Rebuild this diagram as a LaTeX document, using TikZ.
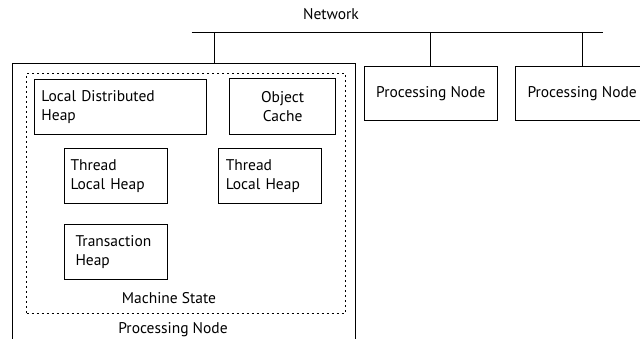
\documentclass[tikz,border=0pt]{standalone}
\usepackage{fontspec}
\setmainfont{PT Sans}
\usetikzlibrary{positioning}

\begin{document}
\begin{tikzpicture}[x=1pt, y=-1pt,
    every node/.style={font=\fontsize{15.5}{19}\selectfont},
    box/.style={draw, line width=1pt, inner sep=0pt, anchor=north west},
    heap/.style={box, align=left, inner ysep=0pt},
    statebox/.style={box, line width=1pt, dash pattern=on 2.5pt off 2.5pt},
  ]
    % Fix the page size
    \useasboundingbox (0,0) rectangle (640,339);

    % Draw the network bus
    \coordinate (netW) at (191.7,32.7);
    \coordinate (netE) at (602.7,32.7);
    \coordinate (tap1) at (214.7,32.7);
    \draw[line width=1pt] (netW) -- (netE);
    \node (net) at (331,14) {Network};

    % Draw the processing nodes
    \node[box, minimum width=343.3, minimum height=275.2] (pn1) at (11.7,63.3) {};
    \node[box, minimum width=132.7, minimum height=54.3] (pn2) at (364,65.7) {Processing Node};
    \node[box, minimum width=132.7, minimum height=54.3] (pn3) at (515.3,65.7) {Processing Node};
    \node (pn1label) at (173,330) {Processing Node};

    % Connect them to the bus
    \draw[line width=1pt] (tap1) -- (tap1 |- pn1.north);
    \draw[line width=1pt] (pn2.north |- netW) -- (pn2.north);
    \draw[line width=1pt] (pn3.north |- netW) -- (pn3.north);

    % Draw the machine state
    \node[statebox, minimum width=319, minimum height=239.7] (state) at (26,73) {};
    \node (statelabel) at (169,298) {Machine State};

    % Draw the heaps inside it
    \node[heap, text width=158, inner xsep=7, minimum height=55] (ldh) at (34,79) {Local Distributed\\Heap};
    \node[box, align=center, minimum width=105.7, minimum height=56] (cache) at (229.3,78) {Object\\Cache};
    \node[heap, text width=91, inner xsep=6, minimum height=54.4] (tlh1) at (64,148.3) {Thread\\Local Heap};
    \node[heap, text width=88.7, inner xsep=7, minimum height=54.4] (tlh2) at (218.3,148.3) {Thread\\Local Heap};
    \node[heap, text width=81, inner xsep=11, minimum height=55] (txheap) at (64,224) {Transaction\\Heap};
\end{tikzpicture}
\end{document}
